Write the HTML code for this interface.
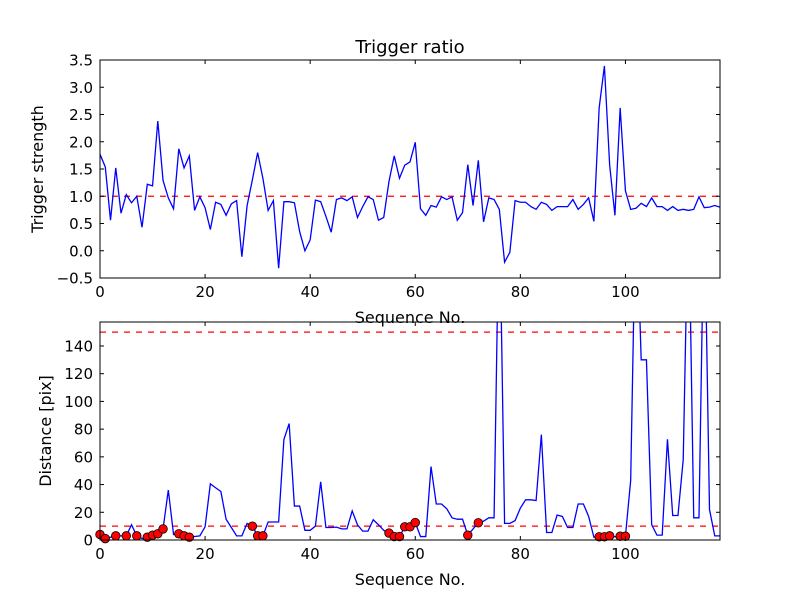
<!DOCTYPE html>
<html><head><meta charset="utf-8"><style>
body{margin:0;background:#fff;}
svg{display:block;font-family:"DejaVu Sans","Liberation Sans",sans-serif;}
</style></head><body>
<svg id="chart" width="800" height="600" viewBox="0 0 800 600"></svg>
<script>
const trigger=[1.77,1.54,0.56,1.52,0.69,1.03,0.88,1.0,0.43,1.22,1.19,2.38,1.29,0.97,0.77,1.87,1.52,1.74,0.74,0.99,0.79,0.39,0.89,0.85,0.65,0.86,0.92,-0.11,0.83,1.30,1.80,1.33,0.74,0.92,-0.32,0.90,0.90,0.88,0.35,0.0,0.2,0.93,0.90,0.63,0.34,0.94,0.97,0.92,0.99,0.61,0.81,0.99,0.94,0.56,0.61,1.27,1.74,1.33,1.57,1.63,1.99,0.77,0.65,0.83,0.80,0.99,0.94,0.99,0.56,0.70,1.58,0.83,1.66,0.53,0.97,0.94,0.76,-0.21,-0.03,0.92,0.89,0.89,0.81,0.76,0.89,0.85,0.74,0.81,0.81,0.81,0.94,0.76,0.85,0.97,0.54,2.62,3.39,1.57,0.65,2.62,1.10,0.76,0.78,0.87,0.81,0.97,0.81,0.81,0.74,0.81,0.74,0.76,0.74,0.76,0.99,0.79,0.80,0.83,0.80];
const distance=[4,1,2,3,3,3,11,3,1,2,3.5,4.5,8,36,4,4.5,3,2,2.5,3,9.5,40.5,37.7,35,15,9,3,3,12,10,3,3,13,13,13,72.5,84,24.5,24.5,7,7,10,42,9,9,9.3,8,8,21,11,6.4,6.4,14.6,11,7,5,2.5,2.5,9.5,9.5,12.6,2.5,2.5,53,26,26,22.5,16,15,15,3.5,8,12.4,13.6,16,16,250,12,12,14,23,29,29,28.5,76,5.4,5.4,18,17,9,9,26,26,17,2,2.3,2.3,3,2.3,2.7,2.7,43,250,130,130,11,3.5,3.5,72.7,17.7,17.7,58,250,16,16,250,22,3,3];
const dotIdx=[0,1,3,5,7,9,10,11,12,15,16,17,29,30,31,55,56,57,58,59,60,70,72,95,96,97,99,100];
const xTicks=[0,20,40,60,80,100];
const topYTicks=[-0.5,0,0.5,1,1.5,2,2.5,3,3.5];
const botYTicks=[0,20,40,60,80,100,120,140];
const topRef=[1.0];
const botRef=[10,150];

const NS="http://www.w3.org/2000/svg";
const svg=document.getElementById('chart');
function el(tag,attrs,parent){const e=document.createElementNS(NS,tag);for(const k in attrs)e.setAttribute(k,attrs[k]);(parent||svg).appendChild(e);return e;}
const X0=100,X1=720,XMIN=0,XMAX=118;
const xs=v=>X0+(v-XMIN)/(XMAX-XMIN)*(X1-X0);

function panel(name,top,bot,ymin,ymax,yTicks,fmt,series,refs,ylabel,title,dots){
  const ys=v=>bot-(v-ymin)/(ymax-ymin)*(bot-top);
  const g=el('g',{});
  
  
  const cid='clip-'+name;
  const cp=el('clipPath',{id:cid},g);el('rect',{x:X0,y:top,width:X1-X0,height:bot-top},cp);
  refs.forEach(r=>{const l=el('line',{x1:X0,x2:X1,y1:ys(r),y2:ys(r),stroke:'#ff0000','stroke-width':1.2,'stroke-dasharray':'6,6','clip-path':'url(#'+cid+')'},g);
    
    });
  const d=series.map((v,i)=>(i?'L':'M')+xs(i).toFixed(2)+','+ys(v).toFixed(2)).join(' ');
  const p=el('path',{d:d,fill:'none',stroke:'#0000ff','stroke-width':1.3,'clip-path':'url(#'+cid+')'},g);
  
  
  if(dots){dots.forEach(i=>{const c=el('circle',{cx:xs(i),cy:ys(series[i]),r:4.3,fill:'#ff0000',stroke:'#000','stroke-width':0.8},g);
    
    });}
  el('rect',{x:X0,y:top,width:X1-X0,height:bot-top,fill:'none',stroke:'#000','stroke-width':1},g);
  xTicks.forEach(t=>{const x=xs(t);
    el('line',{x1:x,x2:x,y1:bot,y2:bot-4,stroke:'#000'},g);el('line',{x1:x,x2:x,y1:top,y2:top+4,stroke:'#000'},g);
    const tx=el('text',{x:x,y:bot+19,'font-size':15,'text-anchor':'middle'},g);tx.textContent=t;
    
    });
  yTicks.forEach(t=>{const y=ys(t);
    el('line',{x1:X0,x2:X0+4,y1:y,y2:y,stroke:'#000'},g);el('line',{x1:X1,x2:X1-4,y1:y,y2:y,stroke:'#000'},g);
    const tx=el('text',{x:X0-7,y:y+5.5,'font-size':15,'text-anchor':'end'},g);tx.textContent=fmt(t).replace('-','\u2212');
    
    });
  const xl=el('text',{x:410,y:bot+45,'font-size':16,'text-anchor':'middle'},g);xl.textContent='Sequence No.';
  
  
  const yl=el('text',{x:0,y:0,'font-size':16,'text-anchor':'middle',transform:'translate('+(name==='trigger'?43:51)+','+((top+bot)/2)+') rotate(-90)'},g);yl.textContent=ylabel;
  
  
  if(title){const tt=el('text',{x:410,y:53,'font-size':18,'text-anchor':'middle'},g);tt.textContent=title;
    
    }
}
panel('trigger',60,278,-0.5,3.5,topYTicks,v=>v.toFixed(1),trigger,topRef,'Trigger strength','Trigger ratio',null);
panel('distance',322,540,0,157.3,botYTicks,v=>String(v),distance,botRef,'Distance [pix]',null,dotIdx);
</script>
</body></html>
